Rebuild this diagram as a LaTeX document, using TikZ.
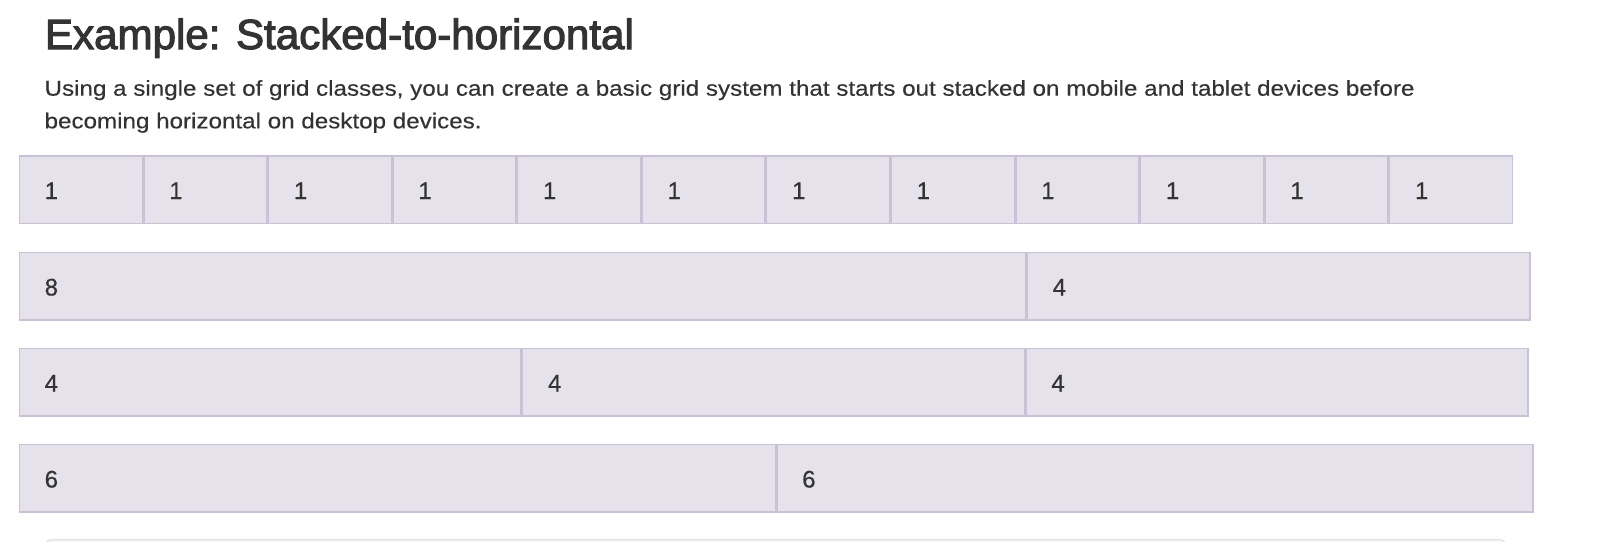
\documentclass[tikz,border=0pt]{standalone}
\usepackage{fontspec}
\setmainfont{Liberation Sans}
\newfontfamily\headfont{Liberation Sans}[FakeBold=2.6]
\newfontfamily\parafont{Liberation Sans}[FakeStretch=1.125,FakeBold=0.3]
\newfontfamily\numfont{Liberation Sans}[FakeBold=0.4]
\usetikzlibrary{calc}

\definecolor{txt}{RGB}{51,51,51}
\definecolor{cellfill}{RGB}{230,226,235}
\definecolor{cellline}{RGB}{201,193,213}
\definecolor{codefill}{RGB}{247,247,249}
\definecolor{codeline}{RGB}{225,225,232}

\begin{document}
\begin{tikzpicture}[x=1pt,y=-1pt,
  cell/.style={draw=cellline, fill=cellfill, line width=1.5pt, inner sep=0pt,
    outer sep=0pt, anchor=north west, minimum height=67.5pt},
  num/.style={anchor=base west, inner sep=0pt, text=txt,
    font=\numfont\fontsize{24}{28}\selectfont},
  para/.style={anchor=base west, inner sep=0pt, text=txt,
    font=\parafont\fontsize{21.5}{32}\selectfont}]

  % --- Page ---
  \clip (0,0) rectangle (1600,541);
  \fill[white] (0,0) rectangle (1600,541);

  % --- Heading and text ---
  \node[anchor=base west, inner sep=0pt, text=txt,
    font=\headfont\fontsize{42.1}{50}\selectfont] (title) at (44.8,49)
    {Example: Stacked-to-horizontal};
  \node[para] (line1) at (44.4,95.7) {Using a single set of grid classes, you can create a basic grid system that starts out stacked on mobile and tablet devices before};
  \node[para] (line2) at (44.4,128.3) {becoming horizontal on desktop devices.};

  % --- Row 1: twelve columns ---
  \foreach \i in {0,...,11} {
    \pgfmathsetmacro\cx{18.5+\i*124.57}
    \node[cell, minimum width=123.07] (a\i) at (\cx+0.75,155.75) {};
    \node[num] (na\i) at ($(a\i.north west)+(25.25,43.25)$) {1};
  }

  % --- Row 2: 8 + 4 ---
  \node[cell, minimum width=1006.5] (b0) at (19.25,252.25) {};
  \node[cell, minimum width=502.5] (b1) at (1027.25,252.25) {};
  \foreach \n/\t in {b0/8,b1/4}
    \node[num] (n\n) at ($(\n.north west)+(25.25,43.25)$) {\t};

  % --- Row 3: 4 + 4 + 4 ---
  \foreach \i in {0,1,2} {
    \pgfmathsetmacro\cx{18.5+\i*503.33}
    \node[cell, minimum width=501.83] (c\i) at (\cx+0.75,348.25) {};
    \node[num] (nc\i) at ($(c\i.north west)+(25.25,43.25)$) {4};
  }

  % --- Row 4: 6 + 6 ---
  \node[cell, minimum width=756.25] (d0) at (19.25,444.25) {};
  \node[cell, minimum width=756.25] (d1) at (776.75,444.25) {};
  \foreach \n in {d0,d1}
    \node[num] (n\n) at ($(\n.north west)+(25.25,43.25)$) {6};

  % --- Code block below (cut off) ---
  \draw[codeline, fill=codefill, line width=1.2pt, rounded corners=5pt]
    (45.5,580) -- (45.5,539.8) -- (1505.5,539.8) -- (1505.5,580);

\end{tikzpicture}
\end{document}
